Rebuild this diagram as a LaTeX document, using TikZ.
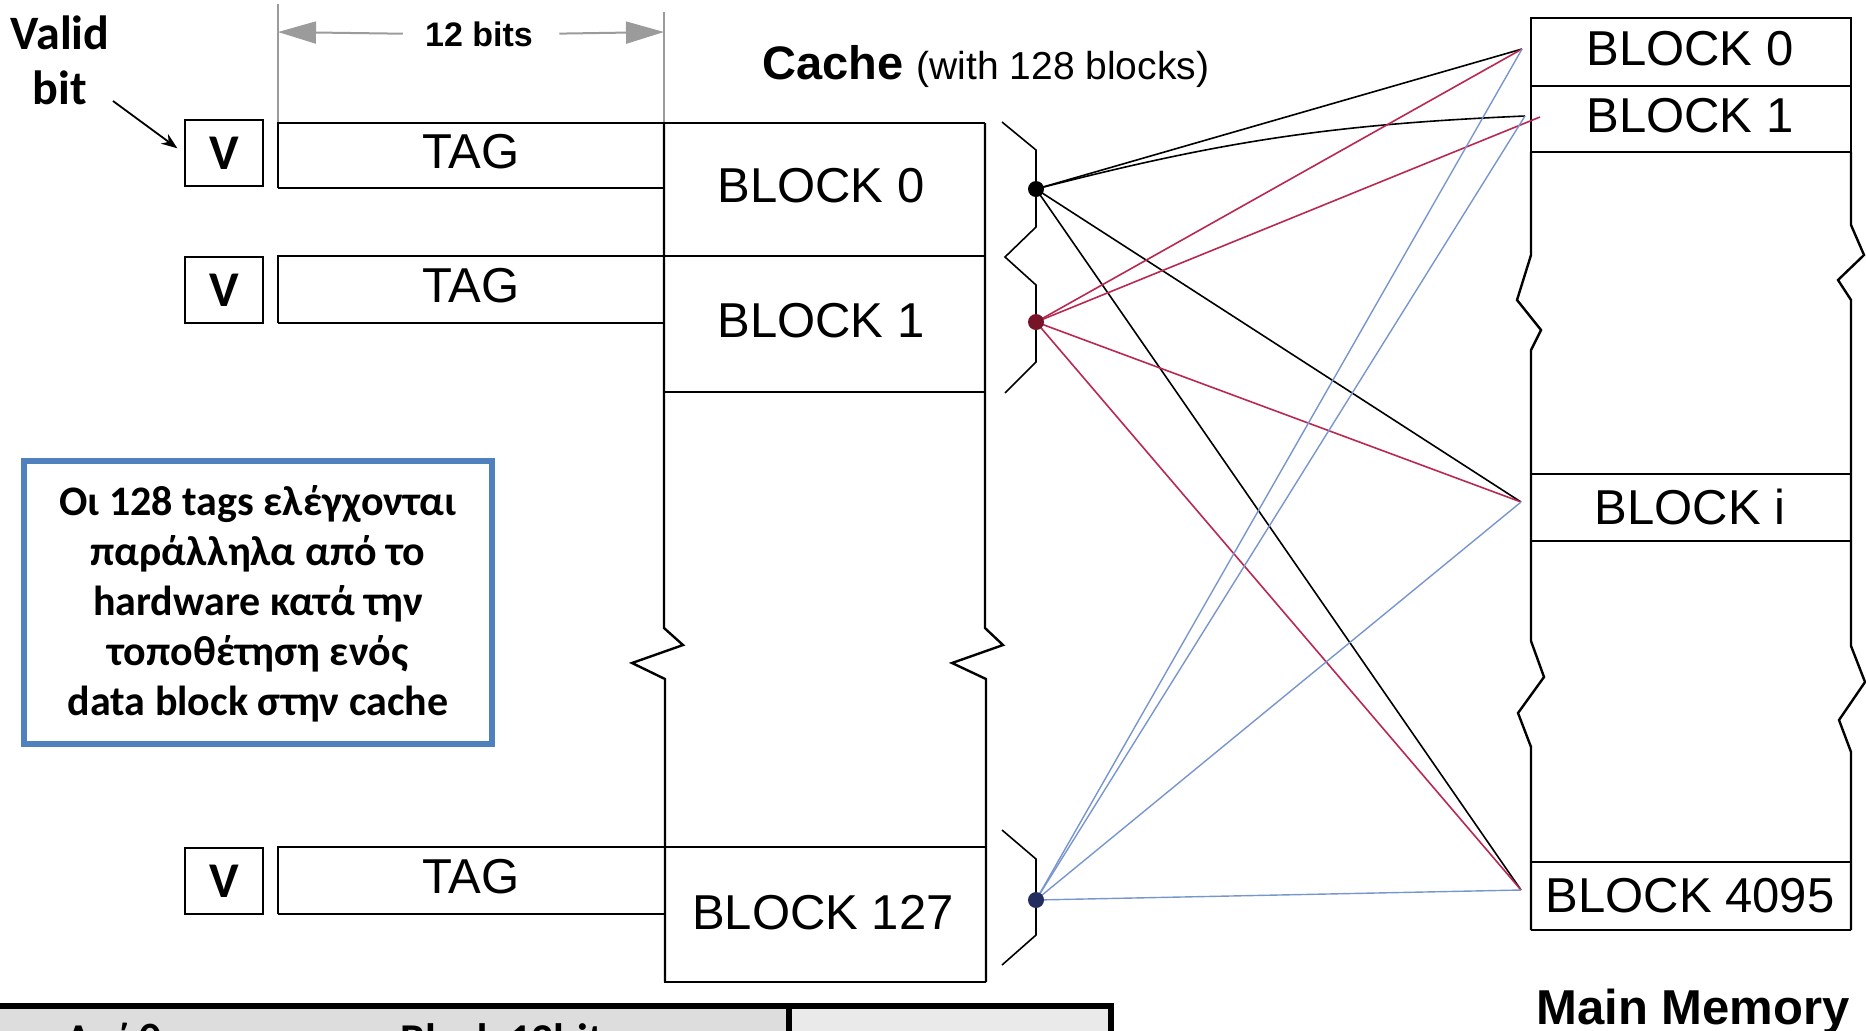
\documentclass[tikz,border=0pt]{standalone}
\usepackage{fontspec}
\setmainfont{Liberation Sans}
\newfontfamily\carl{Carlito}
\usetikzlibrary{arrows.meta}
\definecolor{redl}{RGB}{185,40,80}
\definecolor{bluel}{RGB}{120,150,205}
\definecolor{boxblue}{RGB}{79,129,189}
\definecolor{dimgray}{RGB}{155,155,155}
\definecolor{cellA}{RGB}{221,221,221}
\definecolor{cellB}{RGB}{234,234,234}
\definecolor{dotred}{RGB}{120,20,40}
\definecolor{dotblue}{RGB}{35,45,95}
\begin{document}
\begin{tikzpicture}[x=0.5pt,y=-0.5pt,
  outline/.style={line width=1.2pt, line join=miter},
  bracepath/.style={line width=0.8pt},
  blk/.style={line width=0.8pt, black},
  redc/.style={line width=0.8pt, redl},
  bluec/.style={line width=0.7pt, bluel},
  lbl/.style={font=\fontsize{24.5}{28}\selectfont, inner sep=0pt},
  vbox/.style={draw, line width=1.2pt, minimum width=39pt, minimum height=33pt, inner sep=0pt, font=\carl\bfseries\fontsize{25}{28}\selectfont},
  dotn/.style={circle, inner sep=0pt, minimum size=8pt},
  dimline/.style={draw=dimgray, line width=1pt},
  tabtext/.style={anchor=base west, inner sep=0pt, font=\carl\bfseries\fontsize{22}{26}\selectfont},
]
\useasboundingbox (0,0) rectangle (1866,1030);
\clip (0,0) rectangle (1866,1030);

% ---------- Valid bit ----------
\node[align=center, inner sep=0pt, font=\carl\bfseries\fontsize{24}{27.5}\selectfont] (vb) at (60,60) {Valid\\bit};
\node[vbox] (v0) at (224,153) {V};
\node[vbox] (v1) at (224,290) {V};
\node[vbox] (v127) at (224,881) {V};
\coordinate (vbstart) at (113,101);
\draw[line width=0.9pt, -{Stealth[length=8pt,width=6pt]}, shorten >=4pt] (vbstart) -- (v0.west);

% ---------- 12 bits dimension ----------
\coordinate (dl) at (278,32);
\coordinate (dr) at (664,32);
\draw[dimline] (278,4) -- (278,123);
\draw[dimline] (664,12) -- (664,123);
\node[inner sep=0pt, font=\fontsize{17}{20}\selectfont\bfseries] (bits) at (479,34) {12 bits};
\draw[dimline, -{Triangle[length=19pt,width=11pt]}, shorten <=11pt] (bits.west) -- (dl);
\draw[dimline, -{Triangle[length=19pt,width=11pt]}, shorten <=13pt] (bits.east) -- (dr);

% ---------- Cache ----------
\node[anchor=base west, inner sep=0pt] (ctitle) at (762,79) {\fontsize{23.5}{26}\selectfont\bfseries Cache\ \fontsize{19.5}{24}\mdseries(with 128 blocks)};

% tag rectangles and blocks
\draw[outline] (278,188) -- (278,123) -- (985,123);
\draw[outline] (278,188) -- (664,188);
\draw[outline] (278,323) -- (278,256) -- (985,256);
\draw[outline] (278,323) -- (664,323);
\draw[outline] (664,392) -- (985,392);
\draw[outline] (278,914) -- (278,847) -- (985,847);
\draw[outline] (278,914) -- (664,914);
\draw[outline] (664,982) -- (986,982);
\draw[outline] (664,123) -- (664,628) -- (683,645) -- (632,663) -- (665,679) -- (665,982);
\draw[outline] (985,123) -- (985,628) -- (1003,645) -- (952,663) -- (986,679) -- (986,982);

\node[lbl] (tag0) at (471,152) {TAG};
\node[lbl] (tag1) at (471,286) {TAG};
\node[lbl] (tag127) at (471,877) {TAG};
\node[lbl] (cb0) at (821,186) {BLOCK 0};
\node[lbl] (cb1) at (821,321) {BLOCK 1};
\node[lbl] (cb127) at (823,913) {BLOCK 127};

% braces
\draw[bracepath] (1002,122) -- (1036,150) -- (1036,227) -- (1005,257) -- (1036,285) -- (1036,362) -- (1005,393);
\draw[bracepath] (1002,830) -- (1036,859) -- (1036,935) -- (1002,965);

% ---------- Main memory ----------
\draw[outline] (1531,18) rectangle (1851,86);
\draw[outline] (1531,86) -- (1531,152) -- (1851,152) -- (1851,86);
\draw[outline] (1531,152) -- (1531,255) -- (1517,300) -- (1541,330) -- (1531,350) -- (1531,641) -- (1544,677) -- (1518,713) -- (1531,747) -- (1531,930);
\draw[outline] (1851,152) -- (1851,225) -- (1864,255) -- (1838,280) -- (1851,300) -- (1851,646) -- (1865,682) -- (1839,720) -- (1851,752) -- (1851,930);
\draw[outline] (1531,474) -- (1851,474);
\draw[outline] (1531,541) -- (1851,541);
\draw[outline] (1531,862) -- (1851,862);
\draw[outline] (1531,930) -- (1851,930);

\node[lbl] (mb0) at (1690,49) {BLOCK 0};
\node[lbl] (mb1) at (1690,116) {BLOCK 1};
\node[lbl] (mbi) at (1690,507) {BLOCK i};
\node[lbl] (mb4095) at (1690,896) {BLOCK 4095};
\node[anchor=base, inner sep=0pt, font=\fontsize{24.5}{28}\selectfont\bfseries] (mmtitle) at (1693,1024) {Main Memory};

\coordinate (t0) at (1522,49);
\coordinate (t1) at (1525,116);
\coordinate (t1b) at (1540,117);
\coordinate (ti) at (1521,502);
\coordinate (t4095) at (1521,890);

% dots (named)
\node[dotn] (d0) at (1036,189) {};
\node[dotn] (d1) at (1036,322) {};
\node[dotn] (d127) at (1036,900) {};

% connections
\draw[blk] (d0.center) -- (t0);
\draw[blk] (d0.center) to[bend left=6] (t1);
\draw[blk] (d0.center) -- (ti);
\draw[blk] (d0.center) -- (t4095);
\draw[redc] (d1.center) -- (t0);
\draw[redc] (d1.center) -- (t1b);
\draw[redc] (d1.center) -- (ti);
\draw[redc] (d1.center) -- (t4095);
\draw[bluec] (d127.center) -- (t0);
\draw[bluec] (d127.center) -- (t1);
\draw[bluec] (d127.center) -- (ti);
\draw[bluec] (d127.center) -- (t4095);

\fill[black] (d0) circle[radius=4pt];
\fill[dotred] (d1) circle[radius=4pt];
\fill[dotblue] (d127) circle[radius=4pt];

% ---------- note box ----------
\draw[draw=boxblue, line width=3pt] (24,461) rectangle (492,744);
\node[align=center, inner sep=0pt, font=\carl\bfseries\fontsize{21}{25}\selectfont] (note) at (258,604)
 {Οι 128 tags ελέγχονται\\παράλληλα από το\\hardware κατά την\\τοποθέτηση ενός\\data block στην cache};

% ---------- bottom table (cut off) ----------
\fill[cellA] (0,1008) rectangle (789,1040);
\fill[cellB] (789,1008) rectangle (1111,1040);
\draw[line width=3pt] (-10,1006) -- (1111,1006) -- (1111,1040);
\draw[line width=3pt] (789,1006) -- (789,1040);
\node[tabtext] (tabA) at (65,1054) {Ανάθεση};
\node[tabtext] (tabB) at (400,1054) {Block 12bits};
\end{tikzpicture}
\end{document}
